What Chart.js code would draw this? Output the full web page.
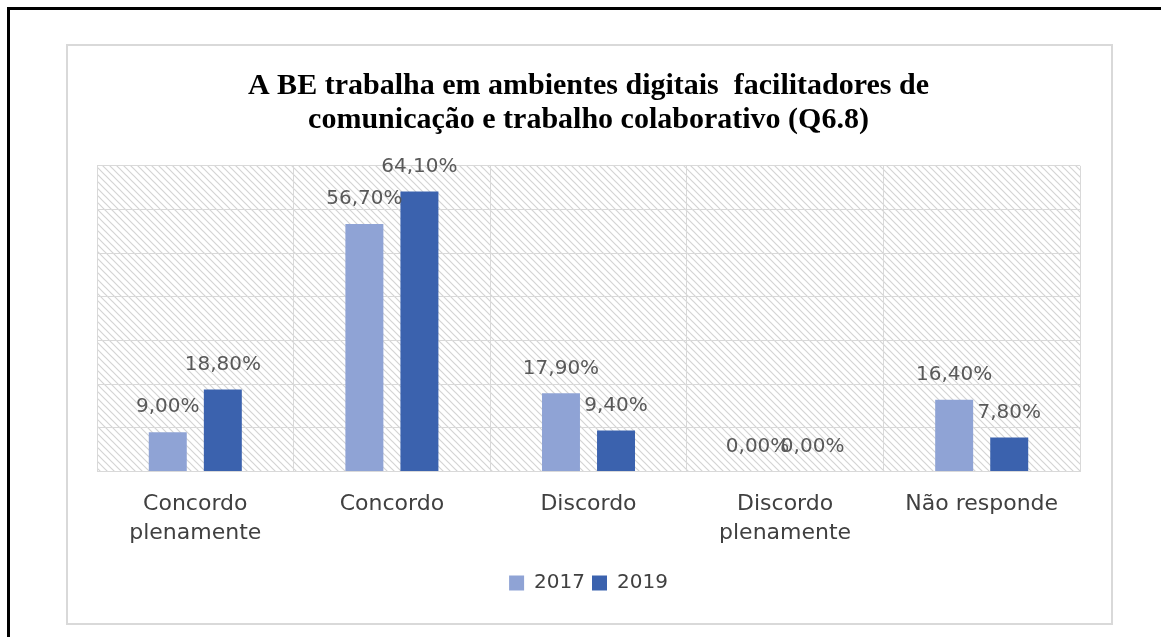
<!DOCTYPE html>
<html>
<head>
<meta charset="utf-8">
<script src="https://cdn.jsdelivr.net/npm/chart.js@4"></script>
<style>
  body { margin: 0; background: #fff; }
  #page { position: relative; width: 1161px; height: 637px; overflow: hidden; }
  #outer { position: absolute; left: 7px; top: 7px; right: -10px; bottom: -10px;
           border-left: 3px solid #000; border-top: 3px solid #000; }
  #frame { position: absolute; left: 66px; top: 44px; width: 1043px; height: 577px;
           border: 2px solid #d9d9d9; }
  #wrap { position: absolute; left: 0; top: 0; width: 1161px; height: 637px; }
</style>
</head>
<body>
<div id="page">
  <div id="outer"></div>
  <div id="frame"></div>
  <div id="wrap"><canvas id="chart"></canvas></div>
</div>
<script>
// Chart data
const categories = [
  ['Concordo', 'plenamente'],
  'Concordo',
  'Discordo',
  ['Discordo', 'plenamente'],
  'Não responde'
];
const values2017 = [9.0, 56.7, 17.9, 0.0, 16.4];
const values2019 = [18.8, 64.1, 9.4, 0.0, 7.8];
const seriesNames = ['2017', '2019'];
const titleLines = [
  'A BE trabalha em ambientes digitais  facilitadores de',
  'comunicação e trabalho colaborativo (Q6.8)'
];

// Diagonal hatch used behind the plot area
function makeHatch() {
  const size = 7;
  const c = document.createElement('canvas');
  c.width = size;
  c.height = size;
  const g = c.getContext('2d');
  g.fillStyle = '#ffffff';
  g.fillRect(0, 0, size, size);
  g.strokeStyle = '#d4d4d4';
  g.lineWidth = 1.2;
  g.beginPath();
  g.moveTo(-1, -1); g.lineTo(size + 1, size + 1);
  g.moveTo(-1, size - 1); g.lineTo(1, size + 1);
  g.moveTo(size - 1, -1); g.lineTo(size + 1, 1);
  g.stroke();
  return c;
}

const hatchBackground = {
  id: 'hatchBackground',
  beforeDraw(chart) {
    const { ctx, chartArea } = chart;
    ctx.save();
    ctx.fillStyle = ctx.createPattern(makeHatch(), 'repeat');
    ctx.fillRect(chartArea.left, chartArea.top,
                 chartArea.right - chartArea.left, chartArea.bottom - chartArea.top);
    ctx.restore();
  }
};

// Value labels above each bar
const valueLabels = {
  id: 'valueLabels',
  afterDatasetsDraw(chart) {
    const ctx = chart.ctx;
    ctx.save();
    ctx.font = '20px "DejaVu Sans"';
    ctx.fillStyle = '#595959';
    ctx.textAlign = 'center';
    ctx.textBaseline = 'middle';
    chart.data.datasets.forEach((ds, i) => {
      chart.getDatasetMeta(i).data.forEach((bar, j) => {
        const text = ds.data[j].toFixed(2).replace('.', ',') + '%';
        ctx.fillText(text, bar.x, bar.y - 25);
      });
    });
    ctx.restore();
  }
};

const ctx = document.getElementById('chart').getContext('2d');
new Chart(ctx, {
  type: 'bar',
  data: {
    labels: categories,
    datasets: [
      {
        label: seriesNames[0],
        data: values2017,
        backgroundColor: '#8fa3d5',
        categoryPercentage: 0.56,
        barPercentage: 0.69
      },
      {
        label: seriesNames[1],
        data: values2019,
        backgroundColor: '#3b62ae',
        categoryPercentage: 0.56,
        barPercentage: 0.69
      }
    ]
  },
  options: {
    responsive: true,
    maintainAspectRatio: false,
    animation: false,
    layout: {
      padding: { left: 97, right: 81, top: 50, bottom: 34 }
    },
    plugins: {
      title: {
        display: true,
        text: titleLines,
        color: '#000000',
        font: { family: '"Liberation Serif", "Times New Roman", serif', size: 30, weight: 'bold', lineHeight: 1.13 },
        padding: { top: 19, bottom: 29 }
      },
      legend: {
        display: true,
        position: 'bottom',
        labels: {
          color: '#404040',
          boxWidth: 15,
          boxHeight: 15,
          padding: 7,
          font: { family: '"DejaVu Sans"', size: 20 }
        }
      },
      tooltip: { enabled: false }
    },
    scales: {
      x: {
        grid: {
          color: '#d9d9d9',
          drawTicks: false,
          offset: true
        },
        border: { color: '#d9d9d9' },
        ticks: {
          color: '#404040',
          padding: 18,
          maxRotation: 0,
          autoSkip: false,
          font: { family: '"DejaVu Sans"', size: 22, lineHeight: 1.33 }
        }
      },
      y: {
        min: 0,
        max: 70,
        grid: {
          color: '#d9d9d9',
          drawTicks: false
        },
        border: { color: '#d9d9d9' },
        ticks: {
          display: false,
          stepSize: 10
        }
      }
    }
  },
  plugins: [hatchBackground, valueLabels]
});
</script>
</body>
</html>
